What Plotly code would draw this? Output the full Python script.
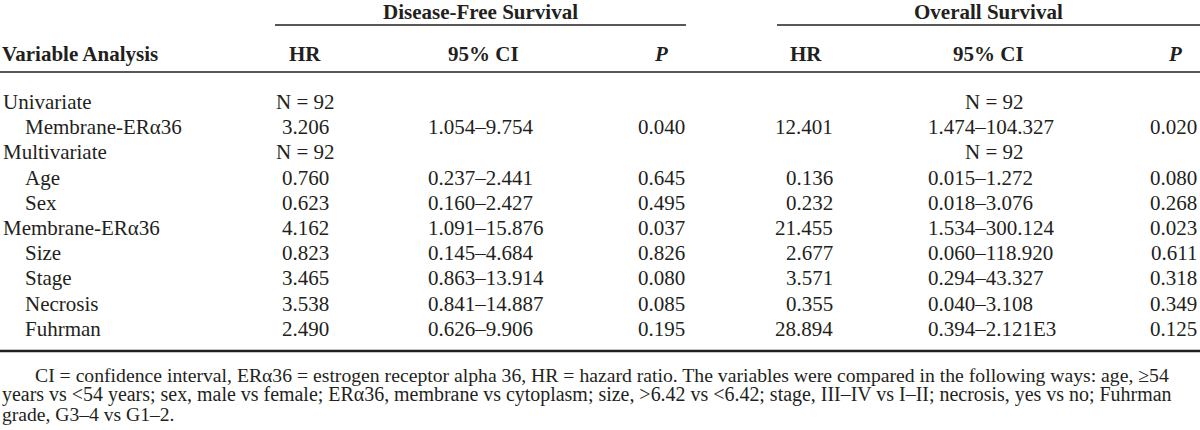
import plotly.graph_objects as go

# ---------------- data ----------------
group_headers = ["Disease-Free Survival", "Overall Survival"]
col_headers = ["HR", "95% CI", "<i>P</i>", "HR", "95% CI", "<i>P</i>"]
stub_header = "Variable Analysis"

row_labels = ["Univariate", "Membrane-ERα36", "Multivariate", "Age", "Sex",
              "Membrane-ERα36", "Size", "Stage", "Necrosis", "Fuhrman"]
row_indent = [0, 1, 0, 1, 1, 0, 1, 1, 1, 1]

dfs_hr = ["N = 92", "3.206", "N = 92", "0.760", "0.623", "4.162", "0.823", "3.465", "3.538", "2.490"]
dfs_ci = ["", "1.054–9.754", "", "0.237–2.441", "0.160–2.427", "1.091–15.876",
          "0.145–4.684", "0.863–13.914", "0.841–14.887", "0.626–9.906"]
dfs_p = ["", "0.040", "", "0.645", "0.495", "0.037", "0.826", "0.080", "0.085", "0.195"]

os_hr = ["", "12.401", "", "0.136", "0.232", "21.455", "2.677", "3.571", "0.355", "28.894"]
os_ci = ["N = 92", "1.474–104.327", "N = 92", "0.015–1.272", "0.018–3.076", "1.534–300.124",
         "0.060–118.920", "0.294–43.327", "0.040–3.108", "0.394–2.121E3"]
os_p = ["", "0.020", "", "0.080", "0.268", "0.023", "0.611", "0.318", "0.349", "0.125"]

footnote_lines = [
    "CI = confidence interval, ERα36 = estrogen receptor alpha 36, HR = hazard ratio. The variables were compared in the following ways: age, ≥54",
    "years vs <54 years; sex, male vs female; ERα36, membrane vs cytoplasm; size, >6.42 vs <6.42; stage, III–IV vs I–II; necrosis, yes vs no; Fuhrman",
    "grade, G3–4 vs G1–2.",
]

# ---------------- layout constants ----------------
FONT = "Liberation Serif, Times New Roman, serif"
COLOR = "#231f20"
BODY = 21
FOOT_SIZES = [19.7, 19.95, 19.6]

row_y0, row_dy = 102, 25.2
ann = []

def add(text, x, y, xanchor="center", size=BODY, bold=False):
    if bold:
        text = "<b>" + text + "</b>"
    ann.append(dict(text=text, x=x, y=y, xref="x", yref="y", xanchor=xanchor,
                    yanchor="middle", showarrow=False,
                    font=dict(family=FONT, size=size, color=COLOR)))

# group headers
add(group_headers[0], 480, 12, bold=True)
add(group_headers[1], 988, 12, bold=True)
# column headers
add(stub_header, 0, 54, xanchor="left", bold=True)
col_x = [305, 483, 661, 806, 988, 1175]
for t, x in zip(col_headers, col_x):
    add(t, x, 54, bold=True)

# rows
for i, lab in enumerate(row_labels):
    y = row_y0 + i * row_dy
    add(lab, 1 + 22 * row_indent[i], y, xanchor="left")
    if dfs_hr[i]:
        add(dfs_hr[i], 305, y)
    if dfs_ci[i]:
        add(dfs_ci[i], 426, y, xanchor="left")
    if dfs_p[i]:
        add(dfs_p[i], 661, y)
    if os_hr[i]:
        add(os_hr[i], 835, y, xanchor="right")
    if os_ci[i]:
        if os_ci[i].startswith("N"):
            add(os_ci[i], 994, y)
        else:
            add(os_ci[i], 926, y, xanchor="left")
    if os_p[i]:
        add(os_p[i], 1199, y, xanchor="right")

# footnote
foot_x = [33, 0, 0]
for i, line in enumerate(footnote_lines):
    add(line, foot_x[i], 375 + 19.5 * i, xanchor="left", size=FOOT_SIZES[i])

shapes = [
    dict(type="line", x0=275, x1=686, y0=25, y1=25, xref="x", yref="y", line=dict(color=COLOR, width=1.5)),
    dict(type="line", x0=777, x1=1200, y0=25, y1=25, xref="x", yref="y", line=dict(color=COLOR, width=1.5)),
    dict(type="line", x0=0, x1=1200, y0=72, y1=72, xref="x", yref="y", line=dict(color=COLOR, width=1.5)),
    dict(type="line", x0=0, x1=1200, y0=351, y1=351, xref="x", yref="y", line=dict(color=COLOR, width=2.5)),
]

fig = go.Figure()
fig.update_layout(
    width=1200, height=430,
    margin=dict(l=0, r=0, t=0, b=0),
    paper_bgcolor="white", plot_bgcolor="white",
    xaxis=dict(range=[0, 1200], visible=False, fixedrange=True),
    yaxis=dict(range=[430, 0], visible=False, fixedrange=True),
    annotations=ann, shapes=shapes, showlegend=False,
)
fig.write_html("out.html", config={"displayModeBar": False},
               post_script="document.body.style.margin='0';document.body.style.overflow='hidden';")
